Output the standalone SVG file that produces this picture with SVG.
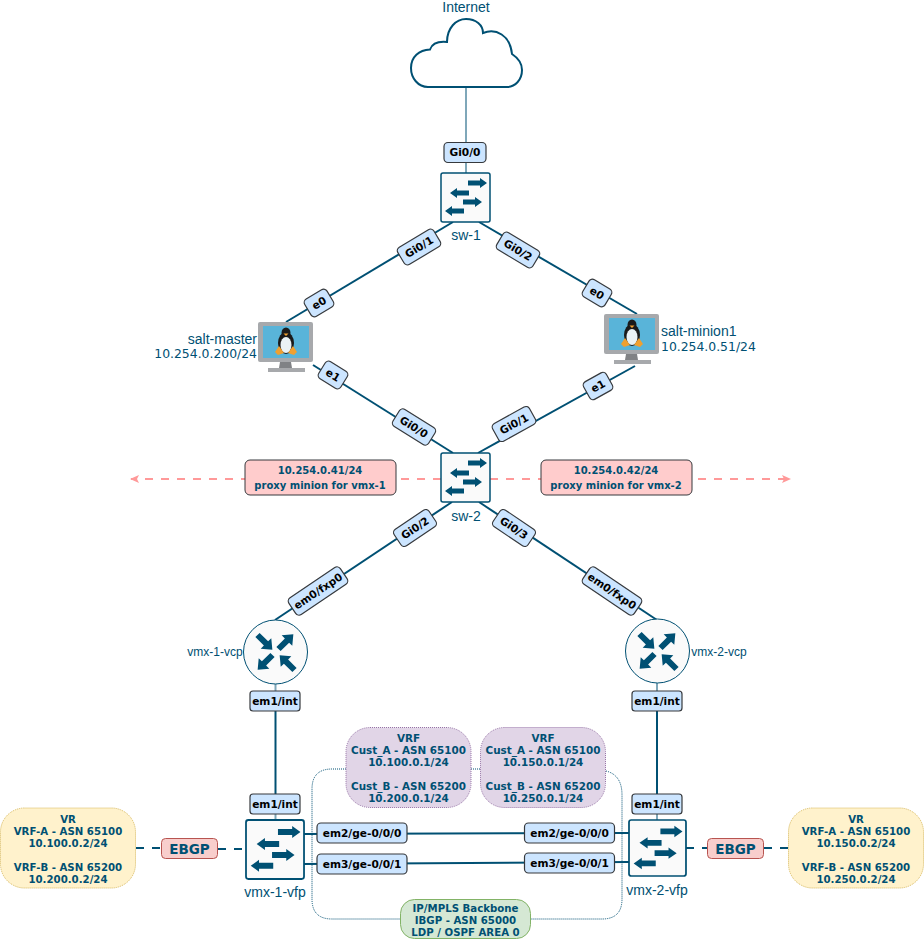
<svg xmlns="http://www.w3.org/2000/svg" xmlns:xlink="http://www.w3.org/1999/xlink" width="924" height="940" viewBox="0 0 924 940">
<style>
text{font-family:"DejaVu Sans",Verdana,sans-serif;text-anchor:middle;fill:#005073}
.b{font-weight:bold;font-size:10.2px}
.pb{font-weight:bold;font-size:10px}
.vf{font-weight:bold;font-size:10.4px}
.p{fill:#000;font-weight:bold;font-size:10.6px}
.n{font-family:"Liberation Sans",Arial,sans-serif;font-size:14px}
.c{font-family:"Liberation Sans",Arial,sans-serif;font-size:12px}
.n2{font-family:"DejaVu Sans",Verdana,sans-serif;font-size:12.4px}
.lb{fill:#cce5ff;stroke:#36393d;stroke-width:1.2}
.ln{fill:none;stroke:#005073;stroke-width:2}
.lt{fill:none;stroke:#005073;stroke-width:2;opacity:.5}
.dash{fill:none;stroke:#005073;stroke-width:2;stroke-dasharray:8 8}
.red{fill:none;stroke:#ff9999;stroke-width:2;stroke-dasharray:8 8}
.dot{fill:none;stroke:#005073;stroke-width:1;stroke-dasharray:1 1}
.box{fill:#fafafa;stroke:#005073;stroke-width:1.5}
.ar{fill:#005073}
</style>
<defs>
<marker id="pink" markerWidth="10" markerHeight="10" refX="8" refY="5" orient="auto" markerUnits="userSpaceOnUse"><path d="M0 1L9 5L0 9L2 5Z" fill="#ff9999"/></marker>
<path id="ra" class="ar" d="M0 -3H12V-7.500L21 0L12 7.500V3H0Z"/>
<g id="sw">
<rect class="box" x="0" y="0" width="49" height="49" rx="2"/>
<path class="ar" d="M27 7.500H39V5L46 10L39 15V12.500H27Z"/>
<path class="ar" d="M28 17.500H16V15L9 20L16 25V22.500H28Z"/>
<path class="ar" d="M22 26.500H34V24L41 29L34 34V31.500H22Z"/>
<path class="ar" d="M23 35.500H11V33L4 38L11 43V40.500H23Z"/>
</g>
<g id="rt">
<circle cx="0" cy="0" r="32" fill="#fafafa" stroke="#005073" stroke-width="1"/>
<use href="#ra" transform="translate(-18,-17) rotate(45)"/>
<use href="#ra" transform="translate(3,-3) rotate(-45)"/>
<use href="#ra" transform="translate(-3,3) rotate(135)"/>
<use href="#ra" transform="translate(19,18) rotate(225)"/>
</g>
<g id="pc">
<rect x="0" y="0" width="55" height="40" rx="2" fill="#a7a9ac"/>
<rect x="5" y="4" width="46" height="32" fill="#59b4d9"/>
<path d="M22 40H33L34 46H21Z" fill="#808285"/>
<rect x="10" y="46" width="37" height="4" fill="#a7a9ac"/>
<ellipse cx="28" cy="21" rx="8" ry="11" fill="#1a1a1a"/>
<ellipse cx="28" cy="11" rx="4.500" ry="5.500" fill="#1a1a1a"/>
<ellipse cx="28" cy="23" rx="5.500" ry="8" fill="#eaf2f5"/>
<path d="M25.500 11.500L30.500 11.500L28 14Z" fill="#f0a030"/>
<path d="M17 30L21 24L26 31L20 33Z M39 30L35 24L30 31L36 33Z" fill="#f0a030"/>
</g>
</defs>

<g id="connectors">
<path class="lt" d="M466 87V173"/>
<path class="ln" d="M453 222L286 322"/>
<path class="ln" d="M479 222L637 314"/>
<path class="ln" d="M313 365L453 453"/>
<path class="ln" d="M635 366L478 453"/>
<path class="ln" d="M452 502L275 620"/>
<path class="ln" d="M479 502L657 620"/>
<path class="lt" d="M275.500 683V691"/>
<path class="ln" d="M275.500 710V794"/>
<path class="lt" d="M275.500 814V820"/>
<path class="lt" d="M657 683V691"/>
<path class="ln" d="M657 711V794"/>
<path class="lt" d="M657 814V820"/>
<path class="ln" d="M304 834L629 833"/>
<path class="ln" d="M304 864L629 862"/>
<path class="dash" d="M136 848H161M218 849H246"/>
<path class="dash" d="M686 848H707M764 848H788"/>
<path class="red" marker-end="url(#pink)" d="M441 479H131"/>
<path class="red" marker-end="url(#pink)" d="M490 479H790"/>
<path class="dot" d="M346 769H332Q312 769 312 789V899Q312 919 332 919H400"/>
<path class="dot" d="M471 769H480"/>
<path class="dot" d="M606 771Q622 775 622 795V899Q622 919 602 919H531"/>
</g>

<g id="internet">
<path d="M428 87C418 87 411 78 411 68C411 57 419 50 430 49.500C432 44 437 41 447 42C447 28 456 19 466 19C476 19 483 25 483 33C496 28 510 35 512 54C518 58 522 63 522 70C522 80 515 87 507 87Z" fill="#fff" stroke="#005073" stroke-width="2"/>
<text class="n" x="466" y="12">Internet</text>
</g>

<g id="sw-1"><use href="#sw" x="441" y="173"/><text class="n" x="466" y="240">sw-1</text></g>
<g id="sw-2"><use href="#sw" x="441" y="453"/><text class="n" x="466" y="521">sw-2</text></g>
<g id="salt-master"><use href="#pc" x="258" y="322"/><text class="n" x="257" y="344" style="text-anchor:end">salt-master</text><text class="n2" x="257" y="358" style="text-anchor:end">10.254.0.200/24</text></g>
<g id="salt-minion1"><use href="#pc" x="604" y="314"/><text class="n" x="661" y="336" style="text-anchor:start">salt-minion1</text><text class="n2" x="661" y="351" style="text-anchor:start">10.254.0.51/24</text></g>
<g id="vmx-1-vcp"><use href="#rt" x="275.500" y="652"/><text class="c" x="215" y="656">vmx-1-vcp</text></g>
<g id="vmx-2-vcp"><use href="#rt" x="657.500" y="651"/><text class="c" x="719" y="656">vmx-2-vcp</text></g>
<g id="vmx-1-vfp"><use href="#sw" transform="translate(246,820) scale(1.184,1.204)"/><text class="n" x="275" y="897">vmx-1-vfp</text></g>
<g id="vmx-2-vfp"><use href="#sw" transform="translate(629,820) scale(1.163,1.143)"/><text class="n" x="657" y="895">vmx-2-vfp</text></g>

<g id="port-labels">
<g transform="translate(465,152.500)"><rect class="lb" x="-21" y="-10" width="42" height="20" rx="4"/><text class="p" y="3.800">Gi0/0</text></g>
<g transform="translate(419,247) rotate(-31)"><rect class="lb" x="-21" y="-10" width="42" height="20" rx="4"/><text class="p" y="3.800">Gi0/1</text></g>
<g transform="translate(518,250) rotate(31)"><rect class="lb" x="-21" y="-10" width="42" height="20" rx="4"/><text class="p" y="3.800">Gi0/2</text></g>
<g transform="translate(319,303) rotate(-31)"><rect class="lb" x="-13" y="-10" width="26" height="20" rx="4"/><text class="p" y="3.800">e0</text></g>
<g transform="translate(597,293) rotate(31)"><rect class="lb" x="-13" y="-10" width="26" height="20" rx="4"/><text class="p" y="3.800">e0</text></g>
<g transform="translate(333,375) rotate(32)"><rect class="lb" x="-13" y="-10" width="26" height="20" rx="4"/><text class="p" y="3.800">e1</text></g>
<g transform="translate(598,386) rotate(-29)"><rect class="lb" x="-13" y="-10" width="26" height="20" rx="4"/><text class="p" y="3.800">e1</text></g>
<g transform="translate(414,427) rotate(32)"><rect class="lb" x="-21" y="-10" width="42" height="20" rx="4"/><text class="p" y="3.800">Gi0/0</text></g>
<g transform="translate(514,424) rotate(-29)"><rect class="lb" x="-21" y="-10" width="42" height="20" rx="4"/><text class="p" y="3.800">Gi0/1</text></g>
<g transform="translate(415,528) rotate(-34)"><rect class="lb" x="-21" y="-10" width="42" height="20" rx="4"/><text class="p" y="3.800">Gi0/2</text></g>
<g transform="translate(514,528) rotate(34)"><rect class="lb" x="-21" y="-10" width="42" height="20" rx="4"/><text class="p" y="3.800">Gi0/3</text></g>
<g transform="translate(318,591) rotate(-34)"><rect class="lb" x="-31" y="-10" width="62" height="20" rx="4"/><text class="p" y="3.800">em0/fxp0</text></g>
<g transform="translate(612,591) rotate(34)"><rect class="lb" x="-31" y="-10" width="62" height="20" rx="4"/><text class="p" y="3.800">em0/fxp0</text></g>
<g transform="translate(275,701)"><rect class="lb" x="-25" y="-10" width="50" height="20" rx="3"/><text class="p" y="3.800">em1/int</text></g>
<g transform="translate(657,701)"><rect class="lb" x="-25" y="-10" width="50" height="20" rx="3"/><text class="p" y="3.800">em1/int</text></g>
<g transform="translate(275,804)"><rect class="lb" x="-25" y="-10" width="50" height="20" rx="3"/><text class="p" y="3.800">em1/int</text></g>
<g transform="translate(657,804)"><rect class="lb" x="-25" y="-10" width="50" height="20" rx="3"/><text class="p" y="3.800">em1/int</text></g>
<g transform="translate(362,833)"><rect class="lb" x="-45" y="-10" width="90" height="20" rx="4"/><text class="p" y="3.800">em2/ge-0/0/0</text></g>
<g transform="translate(362,864)"><rect class="lb" x="-45" y="-10" width="90" height="20" rx="4"/><text class="p" y="3.800">em3/ge-0/0/1</text></g>
<g transform="translate(569.500,833)"><rect class="lb" x="-45" y="-10" width="90" height="20" rx="4"/><text class="p" y="3.800">em2/ge-0/0/0</text></g>
<g transform="translate(569.500,863)"><rect class="lb" x="-45" y="-10" width="90" height="20" rx="4"/><text class="p" y="3.800">em3/ge-0/0/1</text></g>
</g>

<g id="proxy-left"><rect x="245" y="460" width="151" height="35" rx="5" fill="#ffcccc" stroke="#36393d"/><text class="pb" x="320" y="474">10.254.0.41/24</text><text class="pb" x="320" y="489">proxy minion for vmx-1</text></g>
<g id="proxy-right"><rect x="541" y="460" width="151" height="35" rx="5" fill="#ffcccc" stroke="#36393d"/><text class="pb" x="616" y="474">10.254.0.42/24</text><text class="pb" x="616" y="489">proxy minion for vmx-2</text></g>

<g id="vr-left"><rect x="0.500" y="808" width="135" height="80" rx="24" fill="#fff2cc" stroke="#d6b656" stroke-dasharray="1 1"/><text class="b" x="68" y="823">VR</text><text class="b" x="68" y="835">VRF-A - ASN 65100</text><text class="b" x="68" y="847">10.100.0.2/24</text><text class="b" x="68" y="871">VRF-B - ASN 65200</text><text class="b" x="68" y="883">10.200.0.2/24</text></g>
<g id="vr-right"><rect x="788.500" y="808" width="135" height="80" rx="24" fill="#fff2cc" stroke="#d6b656" stroke-dasharray="1 1"/><text class="b" x="856" y="823">VR</text><text class="b" x="856" y="835">VRF-A - ASN 65100</text><text class="b" x="856" y="847">10.150.0.2/24</text><text class="b" x="856" y="871">VRF-B - ASN 65200</text><text class="b" x="856" y="883">10.250.0.2/24</text></g>
<g id="vrf-left"><rect x="346" y="727.500" width="125" height="80" rx="24" fill="#e1d5e7" stroke="#9673a6" stroke-dasharray="1 1"/><text class="vf" x="408.500" y="742">VRF</text><text class="vf" x="408.500" y="754">Cust_A - ASN 65100</text><text class="vf" x="408.500" y="766">10.100.0.1/24</text><text class="vf" x="408.500" y="790">Cust_B - ASN 65200</text><text class="vf" x="408.500" y="802">10.200.0.1/24</text></g>
<g id="vrf-right"><rect x="480.500" y="727.500" width="125" height="80" rx="24" fill="#e1d5e7" stroke="#9673a6" stroke-dasharray="1 1"/><text class="vf" x="543" y="742">VRF</text><text class="vf" x="543" y="754">Cust_A - ASN 65100</text><text class="vf" x="543" y="766">10.150.0.1/24</text><text class="vf" x="543" y="790">Cust_B - ASN 65200</text><text class="vf" x="543" y="802">10.250.0.1/24</text></g>
<g id="backbone"><rect x="400.500" y="899.500" width="130" height="39" rx="14" fill="#d5e8d4" stroke="#82b366"/><text class="b" x="465.500" y="912">IP/MPLS Backbone</text><text class="b" x="465.500" y="924">IBGP - ASN 65000</text><text class="b" x="465.500" y="936">LDP / OSPF AREA 0</text></g>
<g id="ebgp-left"><rect x="161.500" y="838.500" width="56" height="20" rx="4" fill="#f8cecc" stroke="#b85450"/><text x="189.500" y="853.500" style="font-weight:bold;font-size:13.500px">EBGP</text></g>
<g id="ebgp-right"><rect x="707.500" y="838.500" width="56" height="20" rx="4" fill="#f8cecc" stroke="#b85450"/><text x="735.500" y="853.500" style="font-weight:bold;font-size:13.500px">EBGP</text></g>
</svg>
